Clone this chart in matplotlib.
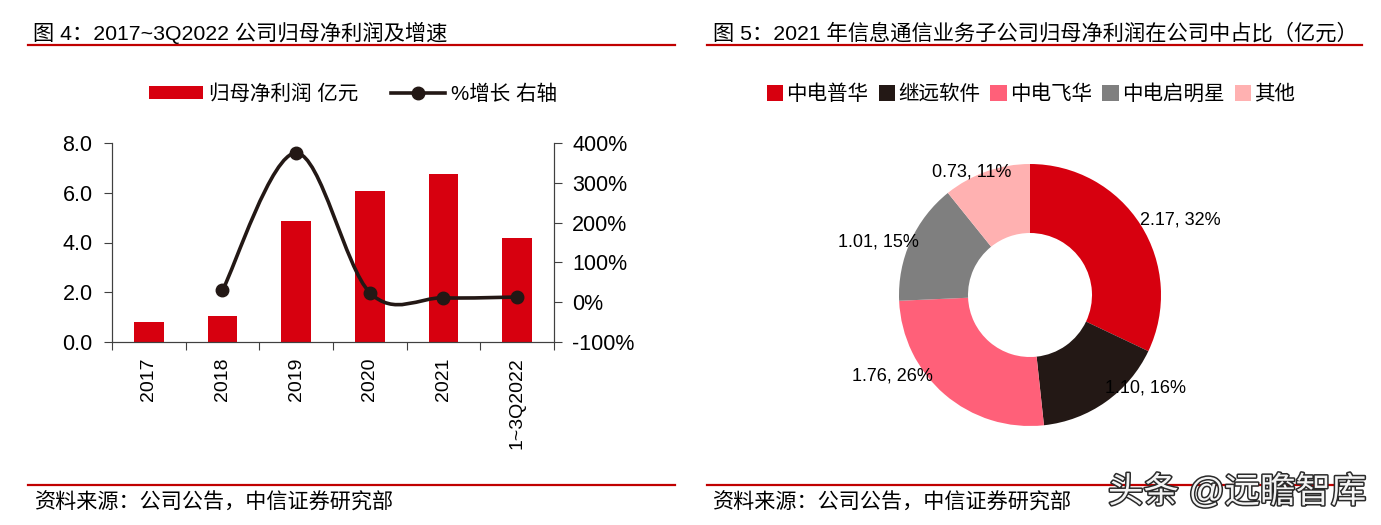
import matplotlib
matplotlib.use('Agg')
import matplotlib.pyplot as plt
import matplotlib.patheffects as pe
from matplotlib.path import Path
from matplotlib.patches import PathPatch, Patch
from matplotlib.lines import Line2D
import numpy as np

plt.rcParams['font.family'] = ['Liberation Sans', 'Noto Sans CJK SC', 'DejaVu Sans']

# data - left chart
years = ['2017', '2018', '2019', '2020', '2021', '1~3Q2022']
profit = [0.80, 1.05, 4.88, 6.07, 6.75, 4.18]          # 亿元
growth = [None, 30, 375, 24, 11, 13]                    # %

# data - donut
subs = ['中电普华', '继远软件', '中电飞华', '中电启明星', '其他']
sub_vals = [2.17, 1.10, 1.76, 1.01, 0.73]
sub_pct = [32, 16, 26, 15, 11]
sub_colors = ['#D7000F', '#231815', '#FF6079', '#7F7F7F', '#FFB1B1']

RED = '#D7000F'
DARK = '#231815'
LINE_RED = '#C00000'
W, H = 1381, 525

fig = plt.figure(figsize=(W / 100, H / 100), dpi=100)


def fx(px):
    return px / W


def fy(py):
    return 1 - py / H


# titles, rules and footers
fig.text(fx(33), fy(33), '图 4：2017~3Q2022 公司归母净利润及增速', fontsize=15.3,
         va='center', ha='left')
fig.text(fx(713), fy(33), '图 5：2021 年信息通信业务子公司归母净利润在公司中占比（亿元）',
         fontsize=15.3, va='center', ha='left')
for x0, x1 in [(28, 675), (707, 1362)]:
    fig.add_artist(Line2D([fx(x0), fx(x1)], [fy(45), fy(45)], color=LINE_RED, lw=1.6))
    fig.add_artist(Line2D([fx(x0), fx(x1)], [fy(485), fy(485)], color=LINE_RED, lw=1.6))
fig.text(fx(35), fy(503), '资料来源：公司公告，中信证券研究部', fontsize=15.2, va='center', ha='left')
fig.text(fx(713), fy(503), '资料来源：公司公告，中信证券研究部', fontsize=15.2, va='center', ha='left')

fig.text(fx(1108), fy(492), '头条 @远瞻智库', fontsize=25.5, va='center', ha='left',
         color='#f4f4f4', path_effects=[pe.withStroke(linewidth=2.2, foreground='#2a2a2a')])

# ---------------- left chart
ax = fig.add_axes([fx(112), fy(342), fx(554) - fx(112), fy(143) - fy(342)])
xpos = np.arange(len(years))
ax.bar(xpos, profit, width=0.4, color=RED, zorder=2)
ax.set_xlim(-0.5, len(years) - 0.5)
ax.set_ylim(0, 8)
ax.set_yticks([0, 2, 4, 6, 8])
ax.set_yticklabels(['%.1f' % v for v in [0, 2, 4, 6, 8]], fontsize=15.5)
ax.set_xticks(np.arange(-0.5, len(years), 1.0))
ax.set_xticklabels([])
ax.set_xticks(xpos, minor=True)
ax.set_xticklabels(years, minor=True, rotation=90, fontsize=14)
ax.tick_params(axis='x', which='minor', length=0, pad=11)
ax.tick_params(axis='x', which='major', length=6, direction='out', color='#404040')
ax.tick_params(axis='y', length=6, direction='out', color='#404040', pad=8)
ax.spines['top'].set_visible(False)
for s in ['left', 'right', 'bottom']:
    ax.spines[s].set_color('#404040')

ax2 = ax.twinx()
ax2.set_ylim(-100, 400)
ax2.set_yticks(range(-100, 401, 100))
ax2.set_yticklabels(['%d%%' % v for v in range(-100, 401, 100)], fontsize=15.5)
ax2.tick_params(axis='y', length=6, direction='out', color='#404040', pad=7)
ax2.spines['top'].set_visible(False)
for s in ['left', 'right', 'bottom']:
    ax2.spines[s].set_color('#404040')

# smoothed growth line (Excel style bezier through the points)
gx = [x for x, g in zip(xpos, growth) if g is not None]
gy = [g for g in growth if g is not None]
pts = np.column_stack([gx, gy]).astype(float)
verts = [pts[0]]
codes = [Path.MOVETO]
n = len(pts)
for i in range(n - 1):
    p0 = pts[i - 1] if i > 0 else pts[i]
    p1 = pts[i]
    p2 = pts[i + 1]
    p3 = pts[i + 2] if i + 2 < n else pts[i + 1]
    c1 = p1 + (p2 - p0) / 6.0
    c2 = p2 - (p3 - p1) / 6.0
    verts += [c1, c2, p2]
    codes += [Path.CURVE4] * 3
ax2.add_patch(PathPatch(Path(verts, codes), fill=False, edgecolor=DARK, lw=2.6, zorder=3))
ax2.plot(gx, gy, 'o', color=DARK, markersize=9, zorder=4)

handles = [Patch(facecolor=RED, edgecolor='none'),
           Line2D([], [], color=DARK, lw=2.6, marker='o', markersize=9)]
fig.legend(handles, ['归母净利润 亿元', '%增长 右轴'], loc='center',
           bbox_to_anchor=(fx(353), fy(94)), ncol=2, frameon=False, fontsize=14.8,
           handlelength=2.6, handleheight=0.65, handletextpad=0.3, columnspacing=1.6)

# ---------------- donut
R = 131
size = 2.6 * R
axd = fig.add_axes([fx(1030 - size / 2), fy(295 + size / 2), size / W, size / H])
axd.pie(sub_vals, colors=sub_colors, startangle=90, counterclock=False, radius=1,
        wedgeprops=dict(width=1 - 62 / 131, edgecolor='none'))
axd.set_xlim(-1.3, 1.3)
axd.set_ylim(-1.3, 1.3)
axd.set_aspect('equal')
axd.axis('off')
lab_xy = [(1.145, 0.573), (0.878, -0.71), (-1.053, -0.618), (-1.16, 0.405), (-0.443, 0.939)]
for (lx, ly), v, p in zip(lab_xy, sub_vals, sub_pct):
    axd.text(lx, ly, '%.2f, %d%%' % (v, p), fontsize=13, ha='center', va='center')

hd = [Patch(facecolor=c, edgecolor='none') for c in sub_colors]
fig.legend(hd, subs, loc='center', bbox_to_anchor=(fx(1031), fy(94)), ncol=5,
           frameon=False, fontsize=14.8, handlelength=0.8, handleheight=0.8,
           handletextpad=0.15, columnspacing=0.5)

fig.savefig('out.png', dpi=100)
